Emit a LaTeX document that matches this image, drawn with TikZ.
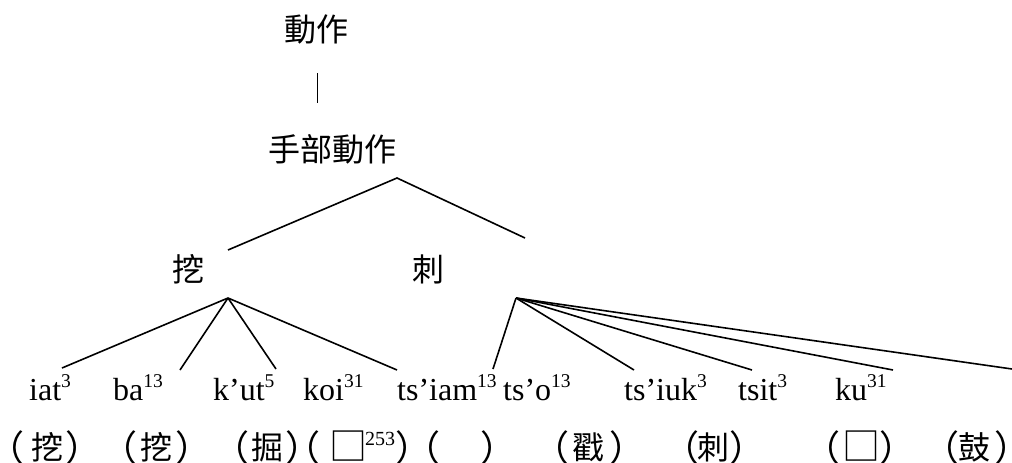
\documentclass[tikz,border=0pt]{standalone}
\usepackage{fontspec}
\setmainfont{Liberation Serif}
\newfontfamily\cjk{Noto Sans CJK TC}
\newcommand{\tonesup}[1]{\raisebox{13pt}{\fontsize{19.5}{19.5}\selectfont #1}}
\begin{document}
\begin{tikzpicture}[x=1pt,y=-1pt,
  lat/.style={anchor=base west, inner sep=0pt, font=\fontsize{32}{38}\selectfont},
  zh/.style={inner sep=0pt, font=\cjk\fontsize{32}{38}\selectfont},
  lpar/.style={inner sep=0pt, font=\cjk\fontsize{36}{40}\selectfont, xshift=-10pt},
  rpar/.style={inner sep=0pt, font=\cjk\fontsize{36}{40}\selectfont, xshift=10pt},
  boxch/.style={inner sep=0pt, font=\cjk\fontsize{38}{40}\selectfont},
  sm/.style={anchor=base west, inner sep=0pt, font=\fontsize{20}{20}\selectfont},
  edge/.style={line width=1.6pt},
  thin/.style={line width=0.8pt}]
\useasboundingbox (0,0) rectangle (1012,463);
% upper levels
\node[zh] (top) at (316,29) {動作};
\node[zh] (hand) at (332,149) {手部動作};
\node[zh] (wa) at (188,269) {挖};
\node[zh] (ci) at (428,269) {刺};
\coordinate (v1) at (317,73);
\coordinate (v2) at (317,103);
\draw[thin] (v1) -- (v2);
\coordinate (a0) at (397,178);
\coordinate (aL) at (228,250);
\coordinate (aR) at (525,238);
\draw[edge] (aL) -- (a0) -- (aR);
% romanised forms
\node[lat] (iat) at (29,400) {iat\tonesup{3}};
\node[lat] (ba) at (113,400) {ba\tonesup{13}};
\node[lat] (kut) at (213,400) {k’ut\tonesup{5}};
\node[lat] (koi) at (303,400) {koi\tonesup{31}};
\node[lat] (tsiam) at (397,400) {ts’iam\tonesup{13}};
\node[lat] (tso) at (503,400) {ts’o\tonesup{13}};
\node[lat] (tsiuk) at (624,400) {ts’iuk\tonesup{3}};
\node[lat] (tsit) at (738,400) {tsit\tonesup{3}};
\node[lat] (ku) at (835,400) {ku\tonesup{31}};
% branches under 挖
\coordinate (b0) at (228,298);
\coordinate (b1) at (62,368);
\coordinate (b2) at (180,370);
\coordinate (b3) at (276,369);
\coordinate (b4) at (397,370);
\foreach \e in {b1,b2,b3,b4} \draw[edge] (b0) -- (\e);
% branches under 刺
\coordinate (c0) at (516,298);
\coordinate (c1) at (493,369);
\coordinate (c2) at (634,370);
\coordinate (c3) at (752,370);
\coordinate (c4) at (893,370);
\coordinate (c5) at (1012,369);
\foreach \e in {c1,c2,c3,c4,c5} \draw[edge] (c0) -- (\e);
% glosses
\node[lpar] (l1) at (16,448) {（};
\node[zh] (g1) at (47,447) {挖};
\node[rpar] (r1) at (73,448) {）};
\node[lpar] (l2) at (129,448) {（};
\node[zh] (g2) at (156,447) {挖};
\node[rpar] (r2) at (183,448) {）};
\node[lpar] (l3) at (241,448) {（};
\node[zh] (g3) at (267,447) {掘};
\node[rpar] (r3) at (293,448) {）};
\node[lpar] (l4) at (312,448) {（};
\node[boxch] (g4) at (348,446) {□};
\node[sm] (s4) at (365,445) {253};
\node[rpar] (r4) at (403,448) {）};
\node[lpar] (l5) at (432,448) {（};
\node[rpar] (r5) at (488,448) {）};
\node[lpar] (l6) at (561,448) {（};
\node[zh] (g6) at (588,447) {戳};
\node[rpar] (r6) at (617,448) {）};
\node[lpar] (l7) at (691,448) {（};
\node[zh] (g7) at (713,447) {刺};
\node[rpar] (r7) at (737,448) {）};
\node[lpar] (l8) at (832,448) {（};
\node[boxch] (g8) at (861,446) {□};
\node[rpar] (r8) at (887,448) {）};
\node[lpar] (l9) at (951,448) {（};
\node[zh] (g9) at (974,447) {鼓};
\node[rpar] (r9) at (1002,448) {）};
\end{tikzpicture}
\end{document}
